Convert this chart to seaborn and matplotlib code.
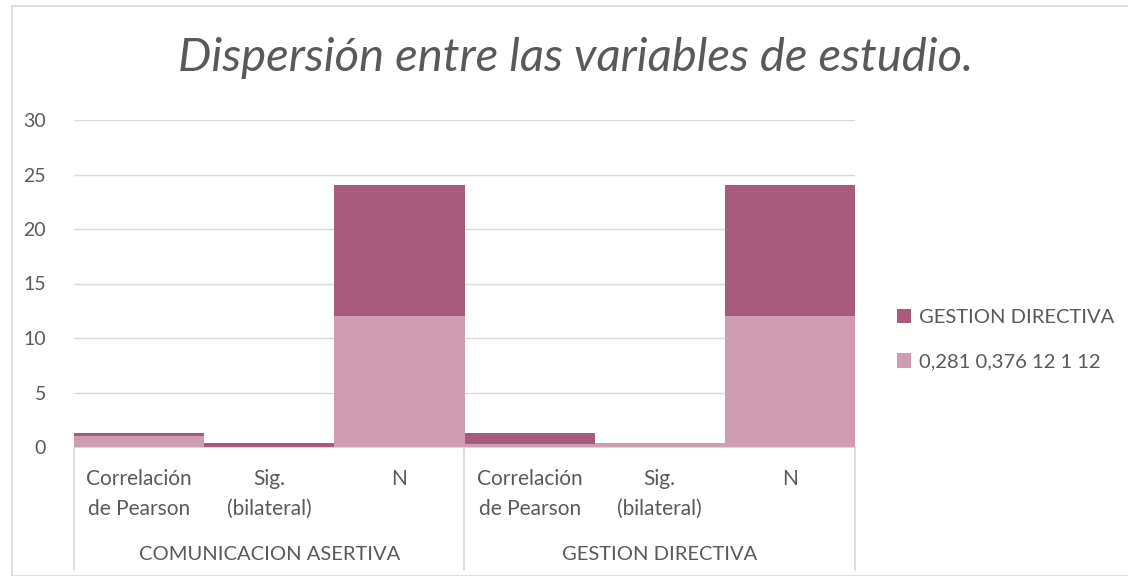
import matplotlib
matplotlib.use("Agg")
import matplotlib.pyplot as plt
import matplotlib.transforms as mtransforms
import numpy as np
import pandas as pd
import seaborn as sns

# data
groups = ["COMUNICACION ASERTIVA", "GESTION DIRECTIVA"]
sub_labels = ["Correlación\nde Pearson", "Sig.\n(bilateral)", "N"]
series_light_name = "0,281 0,376 12 1 12"
series_dark_name = "GESTION DIRECTIVA"
light_values = [1, 0, 12, 0.281, 0.376, 12]
dark_values = [0.281, 0.376, 12, 1, 0, 12]

LIGHT = "#d19cb2"
DARK = "#a85a7d"
GRID = "#d9d9d9"
TEXT = "#595959"

sns.set_style("white")
plt.rcParams["font.family"] = ["Lato", "DejaVu Sans"]

keys = [str(i) for i in range(len(light_values))]
df = pd.DataFrame({
    "key": keys,
    "light": light_values,
    "total": np.array(light_values) + np.array(dark_values),
})

fig = plt.figure(figsize=(11.28, 5.76), dpi=100)
ax = fig.add_axes([74 / 1128, 1 - 447 / 576, (855 - 74) / 1128, (447 - 120) / 576])

# stacked: draw total in dark, then light bottom part over it
sns.barplot(data=df, x="key", y="total", order=keys, color=DARK, width=1.0,
            saturation=1, ax=ax, zorder=3, label=series_dark_name, linewidth=0)
sns.barplot(data=df, x="key", y="light", order=keys, color=LIGHT, width=1.0,
            saturation=1, ax=ax, zorder=4, label=series_light_name, linewidth=0)
handles, labels = ax.get_legend_handles_labels()
if ax.get_legend() is not None:
    ax.get_legend().remove()

ax.set_ylim(0, 30)
ax.set_xlim(-0.5, len(keys) - 0.5)
ax.set_yticks(range(0, 31, 5))
ax.yaxis.grid(True, color=GRID, linewidth=1)
ax.set_axisbelow(True)
ax.tick_params(axis="y", length=0, labelsize=14, colors=TEXT, pad=20)
ax.set_xticks([])
ax.set_xlabel("")
ax.set_ylabel("")
for s in ["top", "right", "left"]:
    ax.spines[s].set_visible(False)
ax.spines["bottom"].set_color(GRID)
ax.spines["bottom"].set_zorder(5)

# multi-level category axis
trans = mtransforms.blended_transform_factory(ax.transData, ax.transAxes)
ax_h = 447 - 120
for i, k in enumerate(keys):
    lab = sub_labels[i % 3]
    ax.text(i, (447 - 469) / ax_h, lab, transform=trans,
            ha="center", va="top", fontsize=15, color=TEXT,
            linespacing=1.6)
for g, name in enumerate(groups):
    ax.text(g * 3 + 1, (447 - 555) / ax_h, name, transform=trans,
            ha="center", va="center", fontsize=14.5, color=TEXT)
for xb in [-0.5, 2.5, 5.5]:
    ax.plot([xb, xb], [0, (447 - 570) / ax_h], transform=trans, color=GRID,
            linewidth=1.2, clip_on=False)

order = [labels.index(series_dark_name), labels.index(series_light_name)]
leg = fig.legend([handles[i] for i in order], [labels[i] for i in order],
                 loc="center left", bbox_to_anchor=(0.779, 0.41),
                 frameon=False, fontsize=14.5, handlelength=0.7,
                 handleheight=0.7, handletextpad=0.4, labelspacing=1.35)
for t in leg.get_texts():
    t.set_color(TEXT)

fig.text(0.51, 0.9, "Dispersión entre las variables de estudio.",
         ha="center", va="center", fontsize=34, style="italic", color=TEXT)

fig.patches.append(plt.Rectangle((12 / 1128, 0), 1, 1 - 6 / 576,
                                 transform=fig.transFigure, fill=False,
                                 edgecolor=GRID, linewidth=1.2))

fig.savefig("out.png", dpi=100)
